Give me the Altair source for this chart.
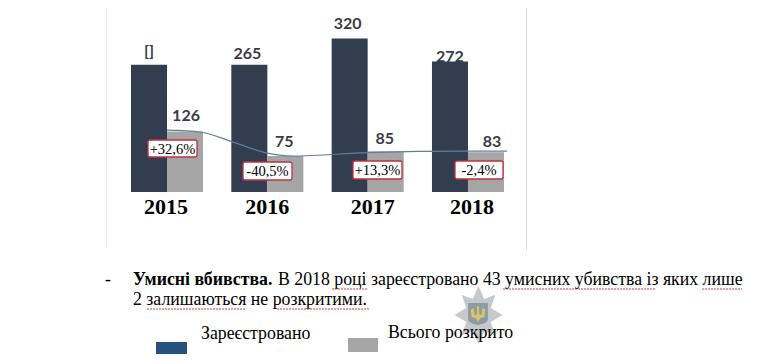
import altair as alt
import pandas as pd

years = ["2015", "2016", "2017", "2018"]
registered = [265, 265, 320, 272]
solved = [126, 75, 85, 83]
registered_labels = ["[]", "265", "320", "272"]
solved_labels = ["126", "75", "85", "83"]
changes = ["+32,6%", "-40,5%", "+13,3%", "-2,4%"]
series_names = ["Зареєстровано", "Всього розкрито"]
trend_x = [2014.82, 2015.15, 2015.48, 2015.82, 2016.08, 2016.82, 2017.82, 2018.21]
trend_y = [129, 125, 104, 81, 75, 82, 85, 85]

DARK, GRAY = "#323d4f", "#a5a5a5"
YS = alt.Scale(domain=[0, 383.33], range=[184, 0])
Y = alt.Y("v:Q", scale=YS, axis=None)
XS = alt.Scale(type="band", domain=years, range=[123, 496], paddingInner=0.282, paddingOuter=0)
X = alt.X("year:N", scale=XS, axis=None)
XO = alt.XOffset("s:N", scale=alt.Scale(domain=series_names))

rows = []
for i, yr in enumerate(years):
    rows.append(dict(year=yr, s=series_names[0], v=registered[i], t=registered_labels[i]))
    rows.append(dict(year=yr, s=series_names[1], v=solved[i], t=solved_labels[i]))
df = pd.DataFrame(rows)

bars = alt.Chart(df).mark_bar().encode(
    x=X, xOffset=XO,
    y=alt.Y("v:Q", scale=YS, axis=None, stack=None),
    color=alt.Color("s:N", scale=alt.Scale(domain=series_names, range=[DARK, GRAY]), legend=None),
)

layers = [bars]

label_dx = [0, 1, -2, -1, -2, -1, 0, 6]
label_gap = [5.3, 7.8, 3, 6.3, 6.7, 4.5, -3.7, 2.3]
for r, dx, gap in zip(rows, label_dx, label_gap):
    layers.append(
        alt.Chart(pd.DataFrame([r])).mark_text(
            font="Lato", fontWeight="bold", fontSize=16, color="#3b3b48",
            dx=dx, dy=-8 - gap, baseline="middle",
        ).encode(x=X, xOffset=XO, y=Y, text="t:N")
    )

trend = alt.Chart(pd.DataFrame({"px": trend_x, "v": trend_y})).mark_line(
    color="#5f7f9a", strokeWidth=1.2, interpolate="monotone"
).encode(
    x=alt.X("px:Q", scale=alt.Scale(domain=[2015, 2018], range=[177, 478], nice=False, zero=False, clamp=False), axis=None),
    y=Y,
)
layers.append(trend)

year_dx = [-1, 0, 5, 4]
for yr, dx in zip(years, year_dx):
    layers.append(
        alt.Chart(pd.DataFrame([dict(year=yr, v=0, t=yr)])).mark_text(
            font="Liberation Serif", fontWeight="bold", fontSize=22, color="#000000",
            dx=dx, dy=15, baseline="middle",
        ).encode(x=X, y=Y, text="t:N")
    )


def txt(s, x, y, **kw):
    base = dict(font="Liberation Serif", fontSize=17.8, color="#000000", align="left", baseline="middle", text=s)
    base.update(kw)
    return alt.Chart(pd.DataFrame({"a": [0]})).mark_text(**base).encode(x=alt.value(x), y=alt.value(y))


def box(x1, x2, y1, y2, **kw):
    return alt.Chart(pd.DataFrame({"a": [0]})).mark_rect(**kw).encode(
        x=alt.value(x1), x2=alt.value(x2), y=alt.value(y1), y2=alt.value(y2)
    )


def glyph(path, x, y, size, fill):
    return alt.Chart(pd.DataFrame({"a": [0]})).mark_point(
        shape=path, size=size, filled=True, fill=fill, opacity=1, strokeWidth=0
    ).encode(x=alt.value(x), y=alt.value(y))


boxes = [(140, 189, 132, 149), (235, 284, 154, 172), (345, 394, 153, 171), (447, 495, 153, 171)]
for (x1, x2, y1, y2), c in zip(boxes, changes):
    layers.append(box(x1, x2, y1, y2, fill="#ffffff", stroke="#c0303a", strokeWidth=1.3, cornerRadius=2))
    layers.append(txt(c, (x1 + x2) / 2, (y1 + y2) / 2 + 1, align="center", fontSize=14.5))

# chart frame
frame = "#d9d9d9"
layers.append(box(98, 518, -5, -4, fill=frame))
layers.append(box(98, 99, -4, 240, fill="#eeeeee"))
layers.append(box(518, 519, -4, 242, fill=frame))

# emblem
star = ("M0,-1 L0.2,-0.55 L0.58,-0.7 L0.42,-0.24 L0.83,0 L0.42,0.24 L0.58,0.7 L0.2,0.55 "
        "L0,1 L-0.2,0.55 L-0.58,0.7 L-0.42,0.24 L-0.83,0 L-0.42,-0.24 L-0.58,-0.7 L-0.2,-0.55 Z")
shield = "M-0.9,-1 L0.9,-1 L0.9,0.45 Q0.9,0.85 0,1 Q-0.9,0.85 -0.9,0.45 Z"
trident = ("M-0.12,-1 L0.12,-1 L0.16,0.1 L0.42,0.1 L0.55,-0.75 L0.9,-0.55 L0.8,0.4 L0.3,0.5 L0,1 "
           "L-0.3,0.5 L-0.8,0.4 L-0.9,-0.55 L-0.55,-0.75 L-0.42,0.1 L-0.16,0.1 Z")
layers.append(glyph(star, 470.5, 307, 3364, "#c6c8ca"))
layers.append(glyph(shield, 470, 306, 484, "#8d9ba5"))
layers.append(glyph(trident, 470, 306, 256, "#d9c36b"))

# paragraph
layers.append(txt("-", 97, 272))
layers.append(txt("Умисні вбивства.", 125, 272, fontWeight="bold"))
layers.append(txt("В 2018 році зареєстровано 43 умисних убивства із яких  лише", 270, 272))
layers.append(txt("2 залишаються не розкритими.", 125, 292))

# spell-check underlines
for x1, x2, y in [(324, 359, 281), (495, 648, 281), (694, 734, 281), (139, 237, 301), (269, 361, 301)]:
    layers.append(
        alt.Chart(pd.DataFrame({"a": [0]})).mark_rule(color="#d04040", strokeWidth=1, strokeDash=[2, 1]).encode(
            x=alt.value(x1), x2=alt.value(x2), y=alt.value(y)
        )
    )

# legend
layers.append(box(148, 179, 334, 346, fill="#26507d"))
layers.append(box(340, 370, 330, 344, fill="#a6a6a6"))
layers.append(txt(series_names[0], 193, 326))
layers.append(txt(series_names[1], 380, 325))

chart = alt.layer(*layers).resolve_scale(x="independent").properties(
    width=742, height=346, padding=0,
    autosize=alt.AutoSizeParams(type="none"),
).configure_view(stroke=None)

chart.save("out.html", embed_options={"renderer": "svg", "actions": False})
